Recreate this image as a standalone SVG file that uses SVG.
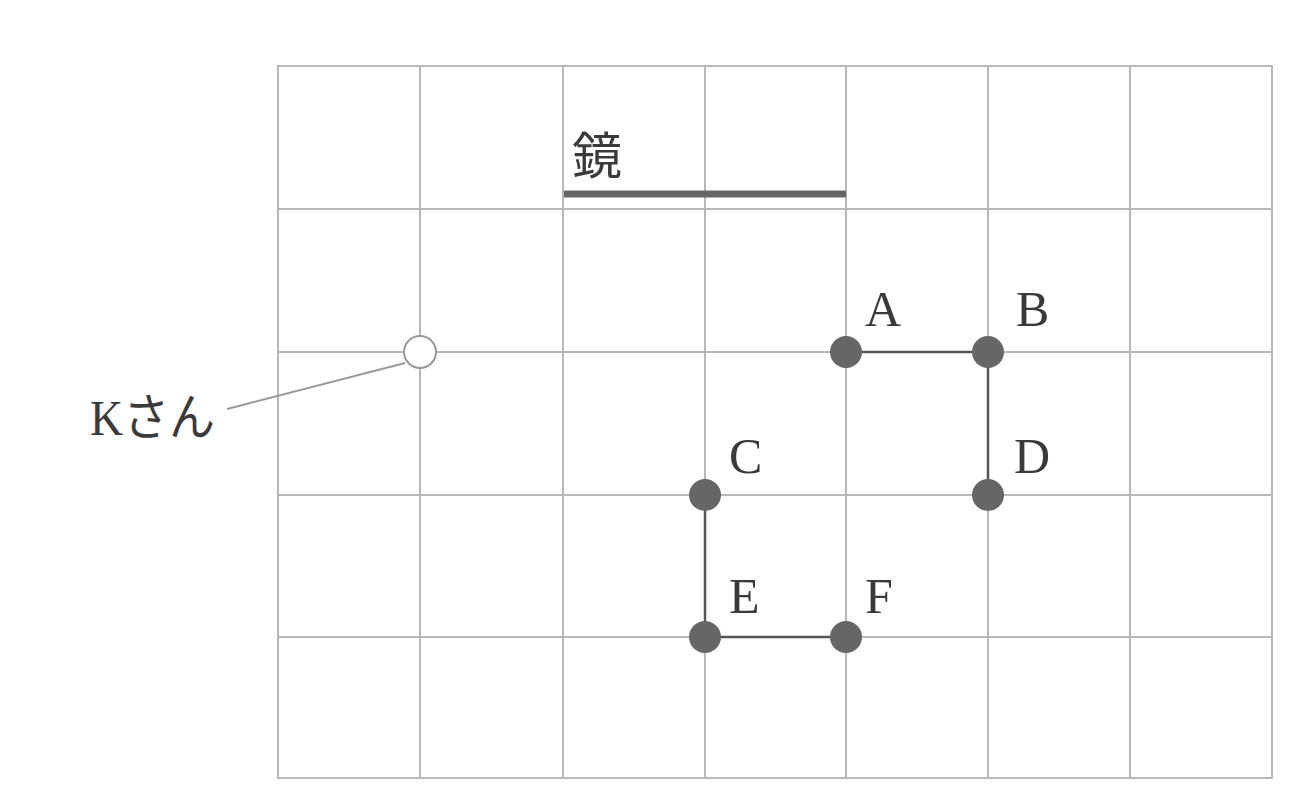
<svg xmlns="http://www.w3.org/2000/svg" width="1300" height="802" viewBox="0 0 1300 802">
<style>
.grid{stroke:#b8b8b8;stroke-width:2;fill:none}
.lbl{font-family:"Liberation Serif","Noto Sans CJK JP",serif;font-size:50px;fill:#3a3a3a}
.dot{fill:#666}
.edge{stroke:#555;stroke-width:2.5;fill:none}
</style>
<rect width="1300" height="802" fill="#fff"/>
<g id="grid" class="grid">
<rect x="278" y="66" width="994" height="712"/>
<line x1="420" y1="66" x2="420" y2="778"/>
<line x1="563" y1="66" x2="563" y2="778"/>
<line x1="705" y1="66" x2="705" y2="778"/>
<line x1="846" y1="66" x2="846" y2="778"/>
<line x1="988" y1="66" x2="988" y2="778"/>
<line x1="1130" y1="66" x2="1130" y2="778"/>
<line x1="278" y1="209" x2="1272" y2="209"/>
<line x1="278" y1="352" x2="1272" y2="352"/>
<line x1="278" y1="495" x2="1272" y2="495"/>
<line x1="278" y1="637" x2="1272" y2="637"/>
</g>
<g id="mirror">
<line x1="564" y1="194" x2="846" y2="194" stroke="#666" stroke-width="7"/>
<text x="572" y="174" font-family="Noto Sans CJK JP,sans-serif" font-size="50" fill="#3a3a3a">鏡</text>
</g>
<g id="connectors">
<line class="edge" x1="846" y1="352" x2="988" y2="352"/>
<line class="edge" x1="988" y1="352" x2="988" y2="495"/>
<line class="edge" x1="705" y1="495" x2="705" y2="637"/>
<line class="edge" x1="705" y1="637" x2="846" y2="637"/>
<line x1="227" y1="409" x2="405" y2="363" stroke="#999" stroke-width="2"/>
</g>
<g id="K">
<circle cx="420" cy="352" r="16" fill="#fff" stroke="#999" stroke-width="2"/>
<text class="lbl" x="90" y="435" font-size="46" textLength="125" lengthAdjust="spacingAndGlyphs" style="font-size:50px">Kさん</text>
</g>
<g id="A"><circle class="dot" cx="846" cy="352" r="16"/><text class="lbl" x="865" y="326">A</text></g>
<g id="B"><circle class="dot" cx="988" cy="352" r="16"/><text class="lbl" x="1016" y="326">B</text></g>
<g id="C"><circle class="dot" cx="705" cy="495" r="16"/><text class="lbl" x="729" y="473">C</text></g>
<g id="D"><circle class="dot" cx="988" cy="495" r="16"/><text class="lbl" x="1014" y="473">D</text></g>
<g id="E"><circle class="dot" cx="705" cy="637" r="16"/><text class="lbl" x="729" y="613">E</text></g>
<g id="F"><circle class="dot" cx="846" cy="637" r="16"/><text class="lbl" x="865" y="613">F</text></g>
</svg>
